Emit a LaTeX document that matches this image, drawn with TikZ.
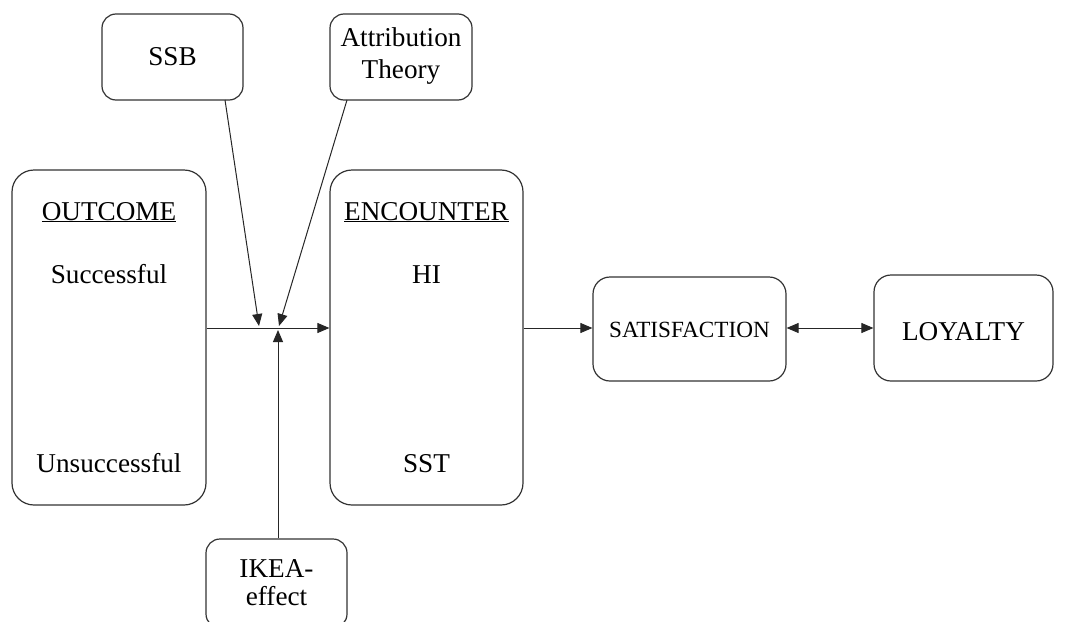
\documentclass[tikz,border=0pt]{standalone}
\usepackage{fontspec}
\setmainfont{Liberation Serif}
\usetikzlibrary{arrows.meta,calc}
\begin{document}
\begin{tikzpicture}[x=1pt,y=-1pt,
  box/.style={draw=black!80, line width=1.2pt, rounded corners=#1, inner sep=0pt},
  box/.default=14pt,
  lbl/.style={font=\fontsize{27.2}{32}\selectfont, align=center, inner sep=0pt, anchor=base},
  slbl/.style={font=\fontsize{23.2}{27}\selectfont, inner sep=0pt, anchor=base},
  tip/.style={Triangle[length=12pt,width=10pt]},
  conn/.style={draw=black!85, line width=1pt, -{Triangle[length=12pt,width=10pt]}},
  dconn/.style={draw=black!85, line width=1pt, {Triangle[length=12pt,width=10pt]}-{Triangle[length=12pt,width=10pt]}},
]
\clip (0,0) rectangle (1067,621);
\fill[white] (0,0) rectangle (1067,621);

% boxes
\node[box, minimum width=141pt, minimum height=86pt] (ssb) at (172.5,57) {};
\node[box, minimum width=142pt, minimum height=86pt] (attr) at (401,57) {};
\node[box=22pt, minimum width=194pt, minimum height=335pt] (outcome) at (109,337.5) {};
\node[box=22pt, minimum width=193pt, minimum height=335pt] (encounter) at (426.5,337.5) {};
\node[box=17pt, minimum width=193pt, minimum height=104pt] (sat) at (689.5,329) {};
\node[box=17pt, minimum width=179pt, minimum height=106pt] (loy) at (963.5,328) {};
\node[box, minimum width=141pt, minimum height=89pt] (ikea) at (276.5,583.5) {};

% texts
\node[lbl] (tssb) at (172.5,65) {SSB};
\node[lbl] (tattr1) at (401,46) {Attribution};
\node[lbl] (tattr2) at (401,78) {Theory};
\node[lbl] (tout) at (109,220) {\underline{OUTCOME}};
\node[lbl] (tsucc) at (109,283) {Successful};
\node[lbl] (tunsucc) at (109,472) {Unsuccessful};
\node[lbl] (tenc) at (426.5,220) {\underline{ENCOUNTER}};
\node[lbl] (thi) at (426.5,283) {HI};
\node[lbl] (tsst) at (426.5,472) {SST};
\node[slbl] (tsat) at (689.5,337) {SATISFACTION};
\node[lbl] (tloy) at (963.5,340) {LOYALTY};
\node[lbl] (tikea1) at (276.5,577) {IKEA-};
\node[lbl] (tikea2) at (276.5,605) {effect};

% connectors
\coordinate (j) at (278,328);
\coordinate (ssbout) at (225,100);
\coordinate (attrout) at (347,100);
\coordinate (ssbtip) at (259,326);
\coordinate (attrtip) at (279,326);
\coordinate (ikeatip) at (278,330);
\draw[conn] (outcome.east |- j) -- (encounter.west |- j);
\draw[conn] (ssbout) -- (ssbtip);
\draw[conn] (attrout) -- (attrtip);
\draw[conn] (ikea.north -| ikeatip) -- (ikeatip);
\draw[conn] (encounter.east |- j) -- (sat.west |- j);
\draw[dconn] (sat.east |- j) -- (loy.west |- j);
\end{tikzpicture}
\end{document}
